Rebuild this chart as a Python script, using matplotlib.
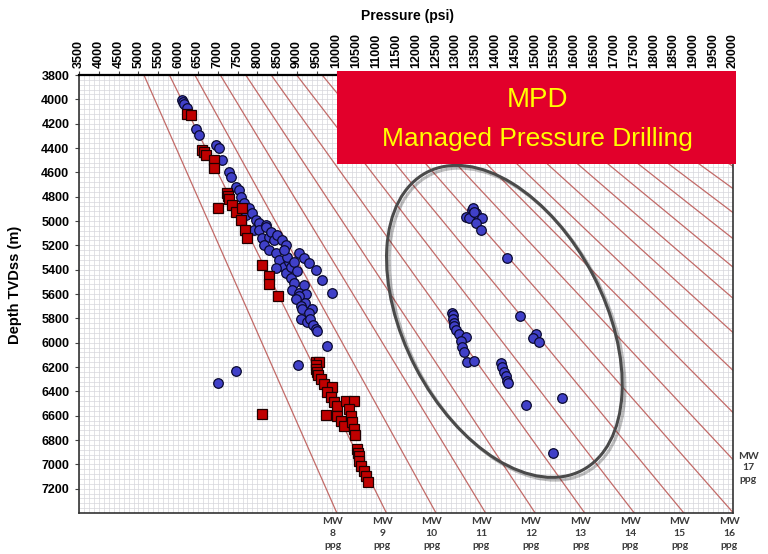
import matplotlib
matplotlib.use("Agg")
import matplotlib.pyplot as plt
import matplotlib.patches as mpatches
import matplotlib.patheffects as pe
import matplotlib.transforms as mtransforms
from matplotlib.ticker import MultipleLocator
import numpy as np

plt.rcParams["font.family"] = ["Liberation Sans", "DejaVu Sans"]

# ── data ──────────────────────────────────────────────────────────────
# blue circles: pressure (psi), depth TVDss (m)
blue_p = [6101, 6126, 6151, 6227, 6454, 6530, 6959, 7035, 7111, 7288,
          7338, 7464, 7540, 7591, 7666, 7717, 7793, 7868, 7919, 7969,
          8045, 8045, 8222, 8222, 8121, 8297, 8348, 8424, 8500, 8626,
          8727, 8171, 8297, 8474, 8550, 8676, 8803, 8752, 8676, 9055,
          9181, 9308, 9484, 9636, 9888, 8474, 8727, 8853, 8853, 8929,
          8929, 9004, 8878, 9055, 9181, 9232, 9055, 8980, 9207, 9106,
          9131, 9383, 9308, 9106, 9257, 9333, 9409, 9484, 9510,
          9762, 9030, 7464, 7010,
          13423, 13272, 13348, 13524, 13600, 13676, 13524, 13651, 13449,
          13474, 14307, 12918, 12944, 12944, 12969, 12969, 13020, 13095,
          13272, 13146, 13171, 13221, 13297, 13474, 14635, 15039, 14964,
          15115, 14156, 14181, 14231, 14282, 14307, 14332, 15696, 14787,
          15469]
blue_d = [4005, 4021, 4038, 4071, 4243, 4292, 4374, 4399, 4497, 4595,
          4636, 4718, 4743, 4800, 4850, 4948, 4891, 4932, 5071, 4989,
          5014, 5071, 5030, 5046, 5137, 5128, 5087, 5153, 5112, 5153,
          5194, 5194, 5235, 5260, 5317, 5374, 5333, 5292, 5235, 5260,
          5301, 5342, 5399, 5481, 5588, 5383, 5424, 5374, 5465, 5506,
          5333, 5415, 5563, 5588, 5522, 5604, 5620, 5645, 5670, 5702,
          5727, 5727, 5752, 5809, 5834, 5809, 5858, 5891, 5907,
          6030, 6186, 6235, 6334,
          4907, 4964, 4973, 4932, 4973, 4973, 5014, 5071, 4891,
          4923, 5301, 5752, 5776, 5809, 5842, 5866, 5899, 5932,
          5957, 5989, 6039, 6080, 6162, 6153, 5784, 5932, 5965,
          5998, 6170, 6203, 6244, 6276, 6317, 6334, 6457, 6514,
          6908]

# red squares: pressure (psi), depth TVDss (m)
red_p = [6227, 6328, 6606, 6656, 6707, 6909, 6909, 7010, 7237, 7262,
         7288, 7363, 7464, 7616, 7591, 7692, 7742, 8121, 8297, 8297,
         8525,
         9484, 9560, 9484, 9484, 9510, 9535, 9611, 9686, 9888, 9762,
         9863, 9939, 10015, 10242, 10444, 10318, 9737, 10015, 10116,
         10192, 10368, 10393, 10444, 10469, 10520, 10545, 10570, 10570,
         10621, 10696, 10747, 10797, 8121]
red_d = [4120, 4128, 4415, 4431, 4456, 4497, 4563, 4891, 4768, 4792,
         4817, 4866, 4923, 4891, 4989, 5071, 5137, 5358, 5456, 5514,
         5620,
         6162, 6162, 6186, 6219, 6244, 6268, 6301, 6342, 6367, 6408,
         6449, 6490, 6522, 6481, 6481, 6547, 6596, 6604, 6645,
         6686, 6604, 6654, 6711, 6760, 6875, 6908, 6932, 6973,
         7014, 7055, 7096, 7146, 6588]

# mud weight lines (ppg); psi per ppg per metre of depth
mw_values = list(range(8, 31))
mw_bottom_labels = list(range(8, 17))
mw_side_label = 17
psi_per_ppg_m = 0.169

p_ticks = np.arange(3500, 20001, 500)
d_ticks = np.arange(3800, 7201, 200)
p_min, p_max = 3500, 20000
d_top, d_bottom = 3800, 7400

# MPD envelope (centre in psi / m)
env_p, env_d = 14231, 5825

# ── figure ────────────────────────────────────────────────────────────
fig = plt.figure(figsize=(7.68, 5.54), dpi=100)
ax = fig.add_axes([0.1029, 0.0740, 0.8516, 0.7906])

depth_line = np.array([d_top, d_bottom])
for mw in mw_values:
    ax.plot(psi_per_ppg_m * mw * depth_line, depth_line, color="#b9524f",
            lw=0.9, alpha=0.85, zorder=2)

ax.plot(blue_p, blue_d, "o", ms=6.9, mfc="#4040c8", mec="#0a0a30",
        mew=0.9, zorder=4)
ax.plot(red_p, red_d, "s", ms=6.6, mfc="#c00000", mec="#200000",
        mew=0.9, zorder=5)

ax.set_xlim(p_min, p_max)
ax.set_ylim(d_bottom, d_top)
ax.xaxis.tick_top()
ax.set_xticks(p_ticks)
ax.set_xticklabels([str(v) for v in p_ticks], rotation=90,
                   fontsize=9, fontweight="bold")
ax.set_yticks(d_ticks)
ax.set_yticklabels([str(v) for v in d_ticks], fontsize=9, fontweight="bold")
ax.xaxis.set_minor_locator(MultipleLocator(125))
ax.yaxis.set_minor_locator(MultipleLocator(40))
ax.tick_params(axis="both", which="major", length=3, width=0.8, pad=2,
               color="#444444")
ax.tick_params(axis="y", which="major", pad=4)
ax.tick_params(which="minor", length=0)
ax.grid(which="both", color="#d6d6dc", lw=0.5, zorder=0)
ax.set_axisbelow(True)
for side in ["left", "right", "bottom"]:
    ax.spines[side].set_color("#333333")
    ax.spines[side].set_linewidth(1.2)
ax.spines["top"].set_color("black")
ax.spines["top"].set_linewidth(1.6)

fig.text(0.531, 0.972, "Pressure (psi)", ha="center", va="center",
         fontsize=10, fontweight="bold")
fig.text(0.020, 0.486, "Depth TVDss (m)", ha="center", va="center",
         rotation=90, fontsize=10.5, fontweight="bold")

# MW labels below the axis and on the right side
mw_font = dict(fontsize=7.5, fontweight="bold", color="#3a3a3a",
               family=["Lato", "DejaVu Sans"], linespacing=1.4)
bx = mtransforms.blended_transform_factory(ax.transData, ax.transAxes)
for mw in mw_bottom_labels:
    ax.annotate(f"MW\n{mw}\nppg", xy=(psi_per_ppg_m * mw * d_bottom, 0),
                xycoords=bx, xytext=(-3, -3), textcoords="offset points",
                ha="center", va="top", annotation_clip=False, **mw_font)
by = mtransforms.blended_transform_factory(ax.transAxes, ax.transData)
ax.annotate(f"MW\n{mw_side_label}\nppg",
            xy=(1.0, p_max / (psi_per_ppg_m * mw_side_label)),
            xycoords=by, xytext=(11, -6), textcoords="offset points",
            ha="center", va="center", annotation_clip=False, **mw_font)

# MPD envelope drawn in inches around a data-space centre
env_trans = fig.dpi_scale_trans + mtransforms.ScaledTranslation(
    env_p, env_d, ax.transData)
env = mpatches.Ellipse((0, 0), width=3.36, height=2.0, angle=-62.5,
                       transform=env_trans, fill=False, ec="#4a4a4a",
                       lw=2.2, zorder=6,
                       path_effects=[pe.SimpleLineShadow(offset=(2, -2),
                                                         alpha=0.25),
                                     pe.Normal()])
ax.add_patch(env)

# MPD banner
banner = mpatches.Rectangle((0.3945, 0.7968), 0.6101, 0.2123,
                            transform=ax.transAxes, facecolor="#e2002b",
                            edgecolor="none", clip_on=False, zorder=10)
ax.add_patch(banner)
ax.text(0.7005, 0.942, "MPD", transform=ax.transAxes, ha="center",
        va="center", fontsize=20, color="#ffff00", zorder=11)
ax.text(0.7005, 0.855, "Managed Pressure Drilling", transform=ax.transAxes,
        ha="center", va="center", fontsize=19, color="#ffff00", zorder=11)

fig.savefig("out.png", dpi=100)
